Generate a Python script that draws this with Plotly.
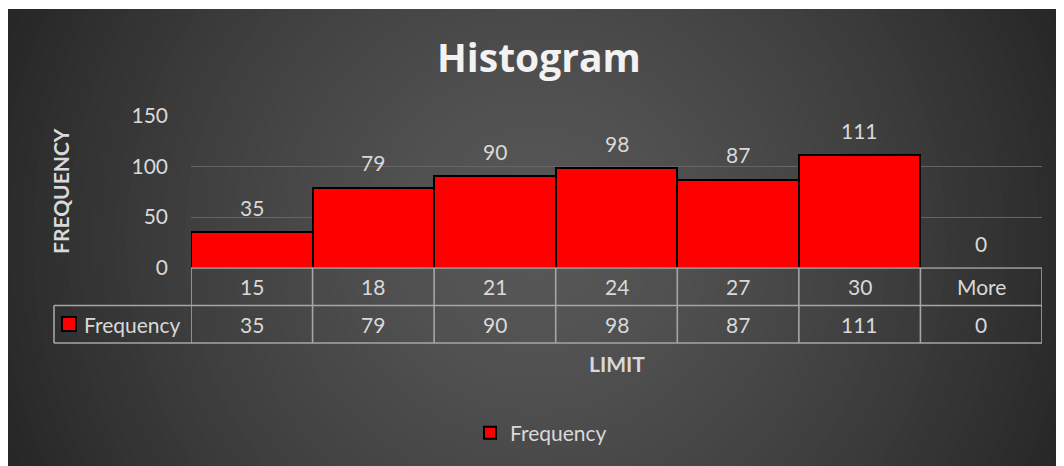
import plotly.graph_objects as go

# ---- data ----
bins = ["15", "18", "21", "24", "27", "30", "More"]
frequency = [35, 79, 90, 98, 87, 111, 0]
series_name = "Frequency"
title_text = "Histogram"
x_title = "LIMIT"
y_title = "FREQUENCY"
y_ticks = [0, 50, 100, 150]

# ---- geometry (page pixels; the page body has an 8px margin) ----
OX, OY = 8, 8
PAGE_W, PAGE_H = 1064, 466
W, H = PAGE_W - OX, PAGE_H - OY
L, R, T, B = 191, 1042, 115, 268  # plot area in page pixels
PW, PH = R - L, B - T


def px(xp):
    return (xp - L) / PW


def py(yp):
    return (B - yp) / PH


TXT = "#d9d9d9"
FONT = "Lato"
FS = 21
n = len(bins)
idx = list(range(n))

fig = go.Figure()
fig.add_trace(go.Bar(
    x=bins, y=frequency, name=series_name, width=1,
    marker=dict(color="#ff0000", line=dict(color="#000000", width=2)),
    hoverinfo="x+y",
))

shapes = []
# radial gradient background via concentric circles
cx, cy = 536, 240
N = 70
rmax = 820
for i in range(N):
    r = rmax * (1 - i / N)
    t = min(r / 580.0, 1.0)
    c = int(round(88 - 50 * t ** 1.35))
    col = f"rgb({c},{c},{c})"
    shapes.append(dict(type="circle", xref="paper", yref="paper", layer="below",
                       x0=px(cx - r), x1=px(cx + r), y0=py(cy + r), y1=py(cy - r),
                       fillcolor=col, line=dict(width=0)))
# 1px white strip at top
shapes.append(dict(type="rect", xref="paper", yref="paper", layer="below",
                   x0=px(0), x1=px(PAGE_W + 5), y0=py(9), y1=py(0),
                   fillcolor="white", line=dict(width=0)))

# data table lines
GRID = "#a6a6a6"
row_top, row_mid, row_bot = 268, 305.5, 343
shapes.append(dict(type="line", xref="x", yref="paper", x0=-0.5, x1=n - 0.5,
                   y0=py(row_top), y1=py(row_top), line=dict(color=GRID, width=1.6)))
for yy in (row_mid, row_bot):
    shapes.append(dict(type="line", xref="paper", yref="paper", x0=px(54), x1=1,
                       y0=py(yy), y1=py(yy), line=dict(color=GRID, width=1.6)))
for k in range(n + 1):
    shapes.append(dict(type="line", xref="x", yref="paper", x0=k - 0.5, x1=k - 0.5,
                       y0=py(row_top), y1=py(row_bot), line=dict(color=GRID, width=1.6)))
shapes.append(dict(type="line", xref="paper", yref="paper", x0=px(54), x1=px(54),
                   y0=py(row_mid), y1=py(row_bot), line=dict(color=GRID, width=1.6)))
# legend key inside table
shapes.append(dict(type="rect", xref="paper", yref="paper",
                   x0=px(62), x1=px(76), y0=py(331), y1=py(317),
                   fillcolor="#ff0000", line=dict(color="#000000", width=1.8)))

ann = []
# data labels
for i, v in zip(idx, frequency):
    ann.append(dict(x=i, y=v, xref="x", yref="y", text=str(v), showarrow=False,
                    xanchor="center", yanchor="middle", yshift=25,
                    font=dict(family=FONT, size=FS, color=TXT)))
# table text
for i, b, v in zip(idx, bins, frequency):
    ann.append(dict(x=i, y=py(286.5), xref="x", yref="paper", text=b, showarrow=False,
                    xanchor="center", yanchor="middle",
                    font=dict(family=FONT, size=FS, color=TXT)))
    ann.append(dict(x=i, y=py(324), xref="x", yref="paper", text=str(v), showarrow=False,
                    xanchor="center", yanchor="middle",
                    font=dict(family=FONT, size=FS, color=TXT)))
ann.append(dict(x=px(82), y=py(324), xref="paper", yref="paper", text=series_name,
                showarrow=False, xanchor="left", yanchor="middle",
                font=dict(family=FONT, size=FS, color=TXT)))
# titles
ann.append(dict(x=px(539), y=py(56), xref="paper", yref="paper", text="<b>" + title_text + "</b>",
                showarrow=False, xanchor="center", yanchor="middle",
                font=dict(family="Open Sans", size=39, color="#f2f2f2")))
ann.append(dict(x=px(617), y=py(363), xref="paper", yref="paper", text="<b>" + x_title + "</b>",
                showarrow=False, xanchor="center", yanchor="middle",
                font=dict(family=FONT, size=21, color=TXT)))
ann.append(dict(x=px(60), y=py(191), xref="paper", yref="paper", text="<b>" + y_title + "</b>",
                showarrow=False, textangle=-90, xanchor="center", yanchor="middle",
                font=dict(family=FONT, size=21, color=TXT)))

fig.update_layout(
    width=W, height=H,
    margin=dict(l=L - OX, r=PAGE_W - R, t=T - OY, b=PAGE_H - B, autoexpand=False),
    paper_bgcolor="white",
    plot_bgcolor="rgba(0,0,0,0)",
    bargap=0,
    shapes=shapes,
    annotations=ann,
    showlegend=True,
    legend=dict(orientation="h", xref="container", yref="container",
                x=(541 - OX) / W, y=1 - (433 - OY) / H, xanchor="center", yanchor="middle",
                font=dict(family=FONT, size=FS, color=TXT), bgcolor="rgba(0,0,0,0)"),
    xaxis=dict(type="category", showticklabels=False, showgrid=False, zeroline=False,
               showline=False, range=[-0.5, n - 0.5], automargin=False, fixedrange=True),
    yaxis=dict(range=[0, 150.4], tickvals=y_ticks, showgrid=True, gridcolor="#656565",
               gridwidth=1.3, zeroline=False, showline=False, ticklabelstandoff=22,
               tickfont=dict(family=FONT, size=FS, color=TXT), automargin=False,
               fixedrange=True),
)

fig.write_html("out.html")
